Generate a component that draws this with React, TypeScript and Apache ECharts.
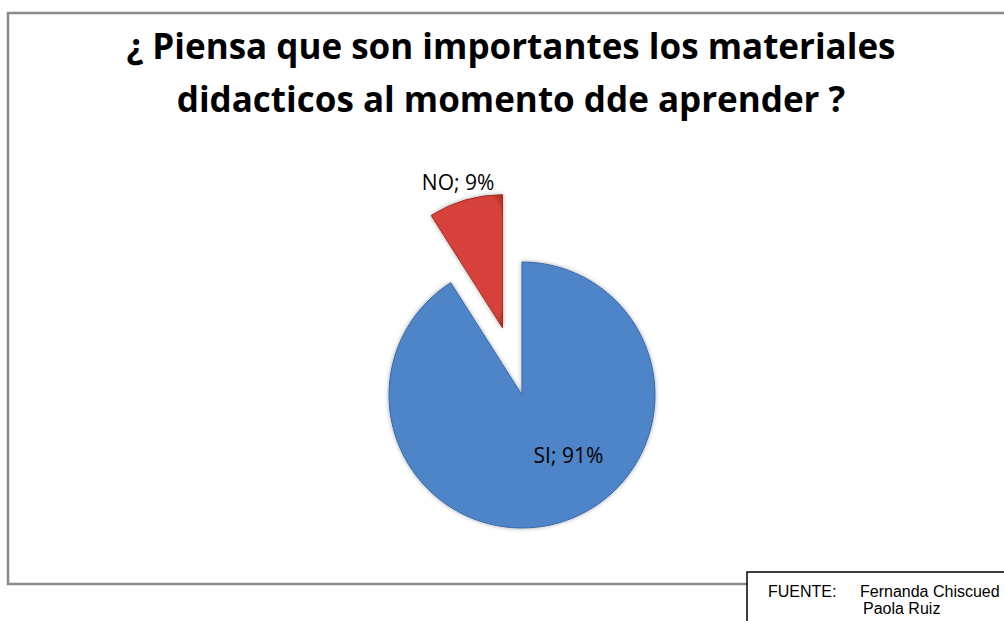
import React, { useEffect, useRef } from "react";
import * as echarts from "echarts";

const titleLines = [
  "¿ Piensa que son importantes los materiales",
  "didacticos al momento dde aprender ?",
];
const categories = ["SI", "NO"];
const values = [91, 9];
const explodedCategory = "NO";
const sourceLabel = "FUENTE:";
const sourceNames = ["Fernanda Chiscued", "Paola Ruiz"];

const sliceColors: Record<string, [string, string]> = {
  SI: ["#4d85c8", "#3a68a5"],
  NO: ["#d6433a", "#a52a22"],
};

const titleFont = "Open Sans, Lato, sans-serif";

export default function App() {
  const ref = useRef<HTMLDivElement>(null);

  useEffect(() => {
    if (!ref.current) return;
    const chart = echarts.init(ref.current, undefined, { renderer: "svg" });

    const data = categories.map((name, i) => ({
      name,
      value: values[i],
      selected: name === explodedCategory,
      itemStyle: {
        color: new echarts.graphic.RadialGradient(0.5, 0.5, 0.7, [
          { offset: 0, color: sliceColors[name][0] },
          { offset: 0.85, color: sliceColors[name][0] },
          { offset: 1, color: sliceColors[name][1] },
        ]),
        borderColor: sliceColors[name][1],
        borderWidth: 1,
      },
      label: { position: "inside" },
    }));

    chart.setOption({
      animation: false,
      backgroundColor: "#ffffff",
      graphic: [
        {
          type: "rect",
          shape: { x: 8, y: 13, width: 1010, height: 571 },
          style: { fill: "none", stroke: "#8a8a8a", lineWidth: 2.5 },
          z: 1,
        },
        {
          type: "text",
          x: 511,
          y: 45,
          style: {
            text: titleLines[0],
            fontSize: 35,
            fontWeight: "bold",
            fontFamily: titleFont,
            fill: "#000",
            align: "center",
            verticalAlign: "middle",
          },
          z: 5,
        },
        {
          type: "text",
          x: 511,
          y: 98,
          style: {
            text: titleLines[1],
            fontSize: 35,
            fontWeight: "bold",
            fontFamily: titleFont,
            fill: "#000",
            align: "center",
            verticalAlign: "middle",
          },
          z: 5,
        },
        {
          type: "rect",
          shape: { x: 747, y: 572, width: 300, height: 70 },
          style: { fill: "#ffffff", stroke: "#000000", lineWidth: 1.5 },
          z: 10,
        },
        {
          type: "text",
          x: 768,
          y: 591,
          style: {
            text: sourceLabel,
            fontSize: 16,
            fontFamily: "Liberation Sans, Arial, sans-serif",
            fill: "#000",
            verticalAlign: "middle",
          },
          z: 11,
        },
        {
          type: "text",
          x: 860,
          y: 591,
          style: {
            text: sourceNames[0],
            fontSize: 16,
            fontFamily: "Liberation Sans, Arial, sans-serif",
            fill: "#000",
            verticalAlign: "middle",
          },
          z: 11,
        },
        {
          type: "text",
          x: 863,
          y: 608,
          style: {
            text: sourceNames[1],
            fontSize: 16,
            fontFamily: "Liberation Sans, Arial, sans-serif",
            fill: "#000",
            verticalAlign: "middle",
          },
          z: 11,
        },
      ],
      series: [
        {
          type: "pie",
          center: [522, 395],
          radius: 133,
          startAngle: 90,
          clockwise: true,
          selectedMode: "single",
          selectedOffset: 70,
          avoidLabelOverlap: false,
          emphasis: { disabled: true },
          itemStyle: {
            shadowBlur: 4,
            shadowColor: "rgba(0,0,0,0.35)",
          },
          label: {
            show: true,
            fontSize: 21,
            fontFamily: titleFont,
            color: "#000",
            formatter: (p: any) => `${p.name}; ${p.value}%`,
          },
          labelLine: { show: false },
          labelLayout: (p: any) =>
            p.dataIndex === 0 ? { dx: 27, dy: -7 } : { dx: -25, dy: -79 },
          data,
        },
      ],
    });

    return () => chart.dispose();
  }, []);

  return (
    <div
      ref={ref}
      style={{ position: "fixed", left: 0, top: 0, width: 1004, height: 621 }}
    />
  );
}
